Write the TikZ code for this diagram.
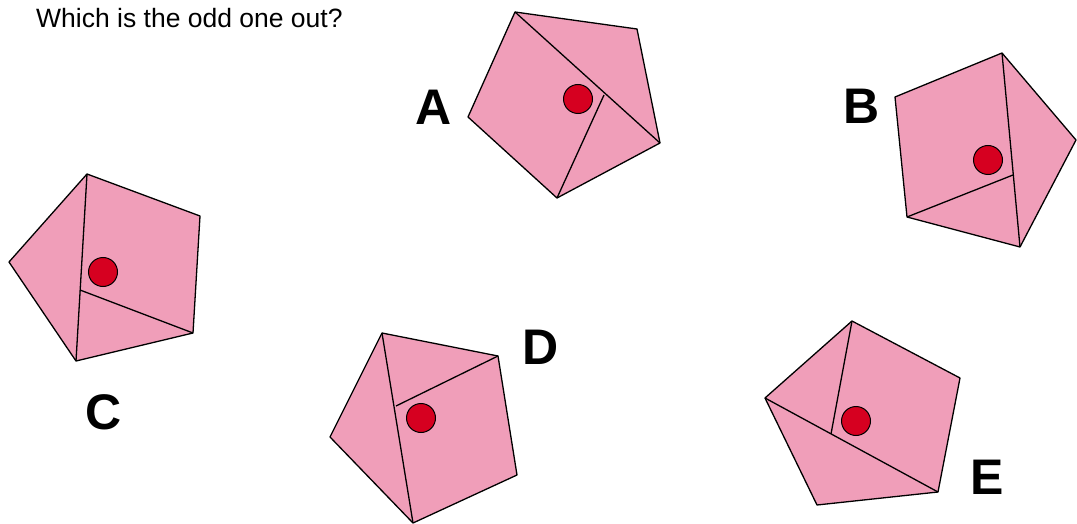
\documentclass[tikz,border=0pt]{standalone}
\usepackage{fontspec}
\setmainfont{Liberation Sans}
\definecolor{pentpink}{RGB}{240,158,185}
\definecolor{dotred}{RGB}{214,0,32}
\tikzset{
  pent/.style={draw=black, fill=pentpink, line width=1.3pt, line join=round},
  fold/.style={draw=black, line width=1.3pt},
  dot/.style={circle, draw=black, fill=dotred, line width=1pt, minimum size=29pt, inner sep=0pt},
  letter/.style={font=\fontsize{50}{50}\selectfont\bfseries, inner sep=0pt}
}
\begin{document}
\begin{tikzpicture}[x=1pt, y=-1pt]
\useasboundingbox (0,0) rectangle (1077,524);
\node[anchor=base west, inner sep=0pt, font=\fontsize{26.5}{30}\selectfont] (question) at (36,28) {Which is the odd one out?};
% A
\coordinate (a1) at (515,12);
\coordinate (a2) at (637,29);
\coordinate (a3) at (660,143);
\coordinate (a4) at (557,198);
\coordinate (a5) at (468,117);
\coordinate (am) at (604,95);
\draw[pent] (a1) -- (a2) -- (a3) -- (a4) -- (a5) -- cycle;
\draw[fold] (a1) -- (a3);
\draw[fold] (am) -- (a4);
\node[dot] (adot) at (578,99) {};
\node[letter] (alab) at (434,107) {A};
% B
\coordinate (b1) at (1002,53);
\coordinate (b2) at (1076,140);
\coordinate (b3) at (1020,247);
\coordinate (b4) at (907,217);
\coordinate (b5) at (895,97);
\coordinate (bm) at (1013,175);
\draw[pent] (b1) -- (b2) -- (b3) -- (b4) -- (b5) -- cycle;
\draw[fold] (b1) -- (b3);
\draw[fold] (bm) -- (b4);
\node[dot] (bdot) at (988,160) {};
\node[letter] (blab) at (862,106) {B};
% C
\coordinate (c1) at (87,174);
\coordinate (c2) at (200,216);
\coordinate (c3) at (193,333);
\coordinate (c4) at (76,361);
\coordinate (c5) at (9,262);
\coordinate (cm) at (80,290);
\draw[pent] (c1) -- (c2) -- (c3) -- (c4) -- (c5) -- cycle;
\draw[fold] (c1) -- (c4);
\draw[fold] (cm) -- (c3);
\node[dot] (cdot) at (103,272) {};
\node[letter] (clab) at (104,412) {C};
% D
\coordinate (d1) at (382,333);
\coordinate (d2) at (498,356);
\coordinate (d3) at (517,475);
\coordinate (d4) at (413,523);
\coordinate (d5) at (330,437);
\coordinate (dm) at (396,406);
\draw[pent] (d1) -- (d2) -- (d3) -- (d4) -- (d5) -- cycle;
\draw[fold] (d1) -- (d4);
\draw[fold] (dm) -- (d2);
\node[dot] (ddot) at (421,418) {};
\node[letter] (dlab) at (541,347) {D};
% E
\coordinate (e1) at (852,321);
\coordinate (e2) at (960,378);
\coordinate (e3) at (938,492);
\coordinate (e4) at (817,505);
\coordinate (e5) at (765,398);
\coordinate (em) at (831,434);
\draw[pent] (e1) -- (e2) -- (e3) -- (e4) -- (e5) -- cycle;
\draw[fold] (e5) -- (e3);
\draw[fold] (em) -- (e1);
\node[dot] (edot) at (856,421) {};
\node[letter] (elab) at (987,477) {E};
\end{tikzpicture}
\end{document}
